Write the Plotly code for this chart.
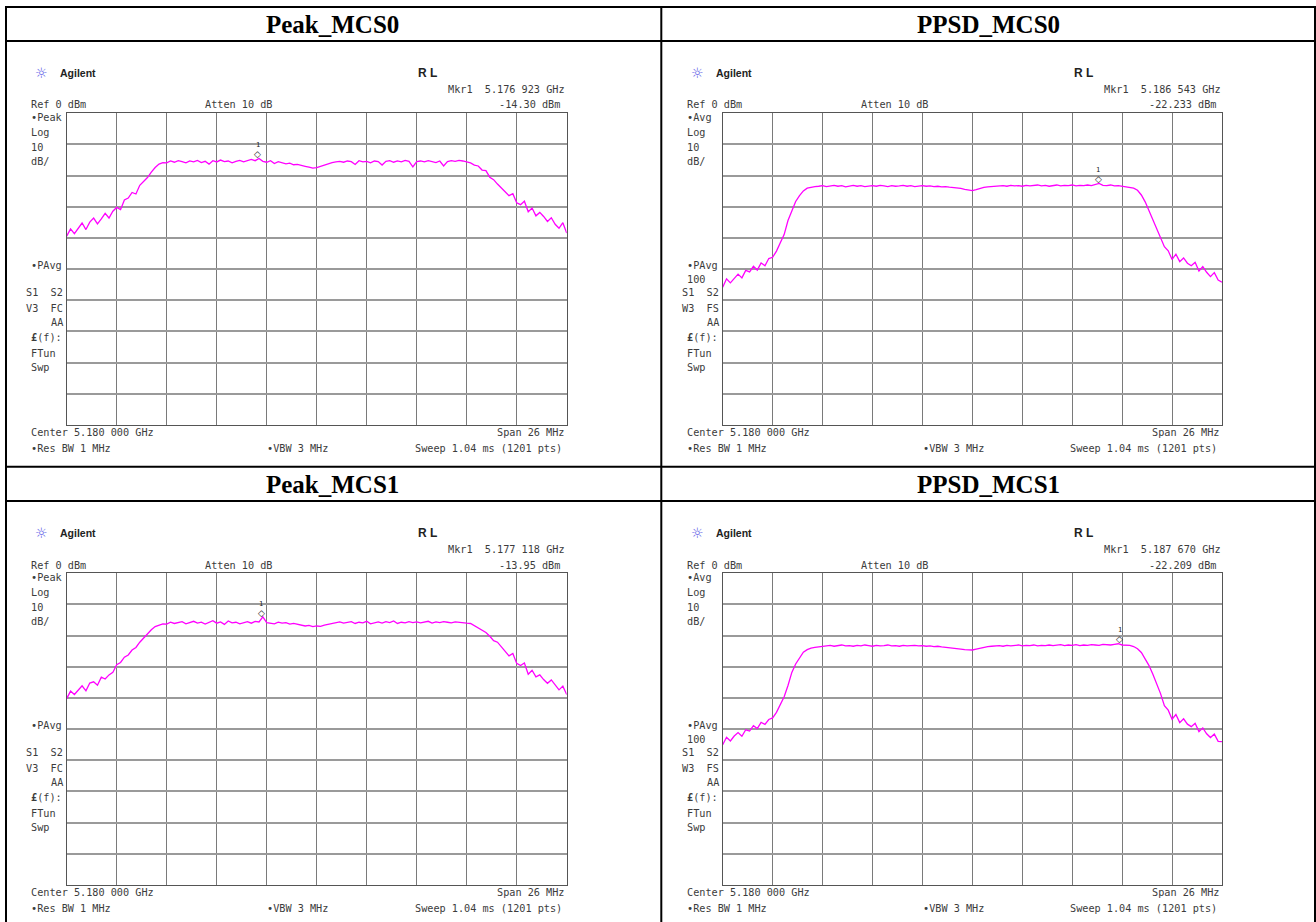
import plotly.graph_objects as go

W, H = 1316, 922

# ---------------- data ----------------
TITLES = ["Peak_MCS0", "PPSD_MCS0", "Peak_MCS1", "PPSD_MCS1"]

# analyzer sweep grid: offset from 5.180 GHz centre, MHz (span 26 MHz)
FREQ_START_MHZ = -13.0
FREQ_STEP_MHZ = 0.2
N_PTS = 131
FREQ_OFFSET_MHZ = [round(FREQ_START_MHZ + FREQ_STEP_MHZ * i, 1) for i in range(N_PTS)]

PEAK_MCS0_DBM = [
    -39.4, -37.1, -38.6, -36.8, -35.2, -37.3, -34.9, -33.6, -35.5, -33.9,
    -32.1, -33.6, -31.4, -30.2, -30.9, -27.8, -27.2, -25.4, -25.9, -23.1,
    -21.9, -20.6, -18.9, -17.4, -16.3, -15.8, -15.9, -15.3, -15.7, -15.2,
    -15.5, -15.9, -15.3, -15.6, -15.1, -15.8, -15.4, -16.3, -15.2, -15.6,
    -15.0, -15.5, -15.3, -15.9, -15.4, -15.1, -15.6, -15.3, -14.8, -15.2,
    -14.5, -15.4, -15.7, -15.2, -16.1, -15.5, -15.8, -16.2, -16.0, -16.5,
    -16.4, -16.8, -17.0, -17.3, -17.6, -17.4, -17.0, -16.5, -16.1, -15.8,
    -15.6, -15.4, -15.7, -15.3, -15.5, -16.4, -15.2, -15.6, -15.4, -15.9,
    -15.3, -15.5, -16.6, -15.4, -15.2, -15.7, -15.3, -15.6, -15.1, -15.4,
    -17.2, -15.5, -15.3, -15.6, -15.2, -15.4, -15.8, -15.3, -16.9, -15.5,
    -15.2, -15.4, -15.1, -15.3, -15.5, -15.9, -16.6, -16.9, -18.2, -18.4,
    -20.5, -21.3, -22.7, -23.9, -25.1, -26.4, -25.8, -28.7, -29.3, -28.2,
    -31.6, -30.4, -32.9, -31.8, -33.1, -34.7, -33.5, -35.6, -36.9, -35.1,
    -38.4,
]

PPSD_MCS0_DBM = [
    -55.8, -53.1, -54.4, -52.9, -51.6, -52.8, -50.4, -50.9, -49.1, -50.3,
    -48.0, -48.9, -46.6, -46.2, -44.2, -41.5, -38.9, -34.4, -31.0, -28.3,
    -26.4, -24.9, -24.0, -23.7, -23.5, -23.4, -23.2, -23.5, -23.3, -23.1,
    -23.4, -23.2, -23.6, -23.3, -23.1, -23.4, -23.2, -23.5, -23.3, -23.2,
    -23.4, -23.1, -23.3, -23.5, -23.2, -23.4, -23.3, -23.1, -23.4, -23.2,
    -23.5, -23.3, -23.2, -23.4, -23.3, -23.5, -23.4, -23.6, -23.5, -23.7,
    -23.8, -23.9, -24.1, -24.4, -24.7, -24.8, -24.5, -24.1, -23.8, -23.6,
    -23.5, -23.4, -23.3, -23.2, -23.4, -23.1, -23.3, -23.2, -23.4, -23.1,
    -23.3, -23.2, -23.0, -23.3, -23.1, -23.4, -23.2, -23.0, -23.3, -23.1,
    -23.2, -23.0, -23.3, -23.1, -23.2, -23.0, -23.2, -22.9, -22.5, -23.1,
    -23.2, -23.0, -23.3, -23.2, -23.4, -23.4, -23.6, -24.0, -24.7, -26.2,
    -28.4, -31.2, -33.9, -36.8, -39.9, -42.8, -44.1, -46.9, -45.2, -47.6,
    -46.4, -48.1, -48.9, -47.8, -50.6, -49.2, -51.0, -52.4, -51.1, -53.5,
    -54.2,
]

PEAK_MCS1_DBM = [
    -40.2, -37.8, -38.9, -37.4, -36.1, -37.7, -35.2, -34.8, -35.9, -33.3,
    -33.9, -32.6, -31.8, -29.3, -28.6, -26.9, -26.2, -24.6, -23.8, -22.1,
    -20.7, -19.3, -18.1, -17.1, -16.6, -16.2, -16.3, -15.7, -16.1, -15.8,
    -15.5, -16.2, -15.9, -15.4, -16.0, -15.7, -16.3, -15.8, -15.2, -16.0,
    -15.6, -16.4, -15.3, -15.9, -15.7, -16.2, -15.8, -15.5, -16.0, -15.4,
    -15.6, -14.0, -15.8, -15.9, -16.2, -15.7, -16.0, -15.8, -16.3, -16.1,
    -16.4, -16.6, -16.9, -16.7, -17.1, -16.9, -17.0, -16.6, -16.3, -16.0,
    -15.9, -15.6, -16.0, -15.8, -15.5, -16.1, -15.7, -15.9, -15.4, -16.2,
    -15.8, -15.6, -16.0, -15.5, -15.8, -15.3, -16.1, -15.7, -15.9, -15.5,
    -15.8, -15.6, -15.9, -15.7, -15.4, -16.0, -15.6, -15.8, -15.5, -15.7,
    -15.9, -15.6, -15.8, -15.9, -16.0, -16.1, -16.8, -17.4, -18.1, -19.0,
    -20.2, -21.6, -22.1, -23.6, -24.9, -26.5, -25.7, -28.9, -29.6, -28.8,
    -32.4, -31.1, -33.2, -32.6, -34.1, -35.3, -34.2, -36.0, -37.4, -36.2,
    -38.9,
]

PPSD_MCS1_DBM = [
    -55.0, -52.6, -53.8, -52.2, -51.1, -52.3, -50.2, -50.6, -48.9, -49.8,
    -47.8, -48.5, -46.9, -46.4, -44.6, -42.3, -39.6, -36.0, -31.8, -29.1,
    -27.0, -25.3, -24.5, -24.0, -23.8, -23.6, -23.4, -23.3, -23.1, -23.4,
    -23.2, -23.0, -23.3, -23.2, -23.4, -23.1, -23.3, -23.0, -23.2, -23.4,
    -23.1, -23.3, -23.2, -23.0, -23.3, -23.2, -23.4, -23.1, -23.3, -23.2,
    -23.1, -23.3, -23.2, -23.4, -23.3, -23.5, -23.4, -23.6, -23.7, -23.8,
    -24.0, -24.1, -24.3, -24.5, -24.6, -24.6, -24.3, -24.0, -23.7, -23.5,
    -23.4, -23.3, -23.2, -23.4, -23.1, -23.3, -23.2, -23.0, -23.3, -23.1,
    -23.2, -23.0, -23.3, -23.1, -23.2, -23.0, -23.2, -23.1, -22.9, -23.2,
    -23.0, -23.1, -22.9, -23.2, -23.0, -23.1, -22.9, -23.0, -23.1, -22.8,
    -22.9, -23.0, -22.8, -22.6, -23.0, -23.0, -23.1, -23.5, -24.2, -25.4,
    -27.3, -29.6, -32.4, -35.4, -38.6, -42.5, -43.9, -46.8, -45.3, -47.9,
    -46.7, -48.4, -49.2, -48.1, -50.8, -49.6, -51.5, -52.7, -51.6, -53.9,
    -54.0,
]

TRACES = [PEAK_MCS0_DBM, PPSD_MCS0_DBM, PEAK_MCS1_DBM, PPSD_MCS1_DBM]

MKR_OFFSET_MHZ = [-3.077, 6.543, -2.882, 7.670]
MKR_LEVEL_DBM = [-14.30, -22.233, -13.95, -22.209]
MKR_FREQ_TEXT = ["5.176 923 GHz", "5.186 543 GHz", "5.177 118 GHz", "5.187 670 GHz"]
MKR_LEVEL_TEXT = ["-14.30 dBm", "-22.233 dBm", "-13.95 dBm", "-22.209 dBm"]
DETECTOR = ["•Peak", "•Avg", "•Peak", "•Avg"]
AVG_COUNT = ["", "100", "", "100"]
MODE_LINE = ["V3\u00a0\u00a0FC", "W3\u00a0\u00a0FS", "V3\u00a0\u00a0FC", "W3\u00a0\u00a0FS"]

REF_DBM = 0
DB_PER_DIV = 10
SPAN_MHZ = 26

# ---------------- layout geometry (pixels) ----------------
# graticule boxes: left, top, right, bottom
BOXES = [
    (66.7, 113.3, 566.7, 425.0),
    (722.7, 113.3, 1222.0, 425.0),
    (66.7, 573.3, 566.7, 885.0),
    (722.7, 573.3, 1222.0, 885.0),
]
TITLE_POS = [(333, 24.5), (988, 24.5), (333, 484.5), (988, 484.5)]

MONO = "DejaVu Sans Mono"
TXT = "#3c3c3c"
FS = 10.2


def px(x):
    return x / W


def py(y):
    return 1 - y / H


fig = go.Figure()
annotations = []
shapes = []


def ann(x, y, text, xanchor="left", size=FS, family=MONO, color=TXT):
    annotations.append(dict(
        x=px(x), y=py(y), xref="paper", yref="paper", text=text,
        xanchor=xanchor, yanchor="middle", showarrow=False,
        font=dict(family=family, size=size, color=color),
    ))


layout_axes = {}
for k in range(4):
    n = "" if k == 0 else str(k + 1)
    gl, gt, gr, gb = BOXES[k]
    fig.add_trace(go.Scatter(
        x=FREQ_OFFSET_MHZ, y=TRACES[k], mode="lines",
        line=dict(color="#ff00ff", width=1.3), xaxis="x" + n, yaxis="y" + n,
        hoverinfo="skip", showlegend=False,
    ))
    layout_axes["xaxis" + n] = dict(
        domain=[px(gl), px(gr)], range=[-SPAN_MHZ / 2, SPAN_MHZ / 2],
        tick0=-SPAN_MHZ / 2, dtick=SPAN_MHZ / 10, showticklabels=False,
        ticks="", showgrid=True, gridcolor="#7a7a7a", gridwidth=1,
        zeroline=False, showline=True, linecolor="#555555", linewidth=1,
        mirror=True, anchor="y" + n, fixedrange=True,
    )
    layout_axes["yaxis" + n] = dict(
        domain=[py(gb), py(gt)], range=[REF_DBM - 10 * DB_PER_DIV, REF_DBM],
        tick0=REF_DBM, dtick=DB_PER_DIV, showticklabels=False, ticks="",
        showgrid=True, gridcolor="#9a9a9a", gridwidth=1.5, zeroline=False,
        showline=True, linecolor="#555555", linewidth=1, mirror=True,
        anchor="x" + n, fixedrange=True,
    )

    # marker
    annotations.append(dict(
        x=MKR_OFFSET_MHZ[k], y=MKR_LEVEL_DBM[k], xref="x" + n, yref="y" + n,
        text="◇", showarrow=False, yshift=4, xanchor="center", yanchor="middle",
        font=dict(family="DejaVu Sans", size=9, color="#222222"),
    ))
    annotations.append(dict(
        x=MKR_OFFSET_MHZ[k], y=MKR_LEVEL_DBM[k], xref="x" + n, yref="y" + n,
        text="1", showarrow=False, yshift=13, xanchor="center", yanchor="middle",
        font=dict(family=MONO, size=7, color="#222222"),
    ))

    # header
    ann(gl - 25, gt - 40.6, "<b>☼</b>", xanchor="center", size=14, family="DejaVu Sans", color="#5a5ae6")
    ann(gl - 9, gt - 40.6, "<b>Agilent</b>", size=10.5, family="Liberation Sans", color="#222222")
    ann(gl + 349.5, gt - 40.6, "<b>R L</b>", size=12, family="Liberation Sans", color="#222222")
    ann(gr + 0.6, gt - 24, "Mkr1\u00a0\u00a0" + MKR_FREQ_TEXT[k], xanchor="right")
    ann(gr - 4.4, gt - 8.3, MKR_LEVEL_TEXT[k], xanchor="right")
    ann(gl - 37.4, gt - 8.3, "Ref 0 dBm")
    ann(gl + 136.6, gt - 8.3, "Atten 10 dB")

    # left column
    ann(gl - 37.4, gt + 4, DETECTOR[k])
    ann(gl - 37.4, gt + 19.4, "Log")
    ann(gl - 37.4, gt + 34, "10")
    ann(gl - 37.4, gt + 48.4, "dB/")
    ann(gl - 37.4, gt + 151.7, "•PAvg")
    if AVG_COUNT[k]:
        ann(gl - 37.4, gt + 166, AVG_COUNT[k])
    ann(gl - 1.8, gt + 179.4, "S1\u00a0\u00a0S2", xanchor="right")
    ann(gl - 1.8, gt + 195, MODE_LINE[k], xanchor="right")
    ann(gl - 1.8, gt + 209.4, "AA", xanchor="right")
    ann(gl - 37.4, gt + 224, "<b>£</b>(f):")
    ann(gl - 37.4, gt + 240, "FTun")
    ann(gl - 37.4, gt + 254.4, "Swp")

    # footer
    ann(gl - 37.4, gb + 7.7, "Center 5.180 000 GHz")
    ann(gr - 1, gb + 7.7, "Span 26 MHz", xanchor="right")
    ann(gl - 37.4, gb + 23.3, "•Res BW 1 MHz")
    ann(gl + 198.3, gb + 23.3, "•VBW 3 MHz")
    ann(gr - 3, gb + 23.3, "Sweep 1.04 ms (1201 pts)", xanchor="right")

    # cell title
    tx, ty = TITLE_POS[k]
    ann(tx, ty, "<b>" + TITLES[k] + "</b>", xanchor="center", size=25,
        family="Liberation Serif", color="#000000")

# table rules
for yline in (7.0, 41.0, 466.7, 501.0):
    shapes.append(dict(type="line", xref="paper", yref="paper",
                       x0=px(5), x1=px(1316), y0=py(yline), y1=py(yline),
                       line=dict(color="#000000", width=2)))
for xline in (6.0, 661.3, 1315.0):
    shapes.append(dict(type="line", xref="paper", yref="paper",
                       x0=px(xline), x1=px(xline), y0=py(6.0), y1=py(922),
                       line=dict(color="#000000", width=2)))

fig.update_layout(
    width=W, height=H, margin=dict(l=0, r=0, t=0, b=0),
    paper_bgcolor="white", plot_bgcolor="white",
    annotations=annotations, shapes=shapes, showlegend=False,
    **layout_axes,
)

fig.write_html("out.html", config={"displayModeBar": False})
